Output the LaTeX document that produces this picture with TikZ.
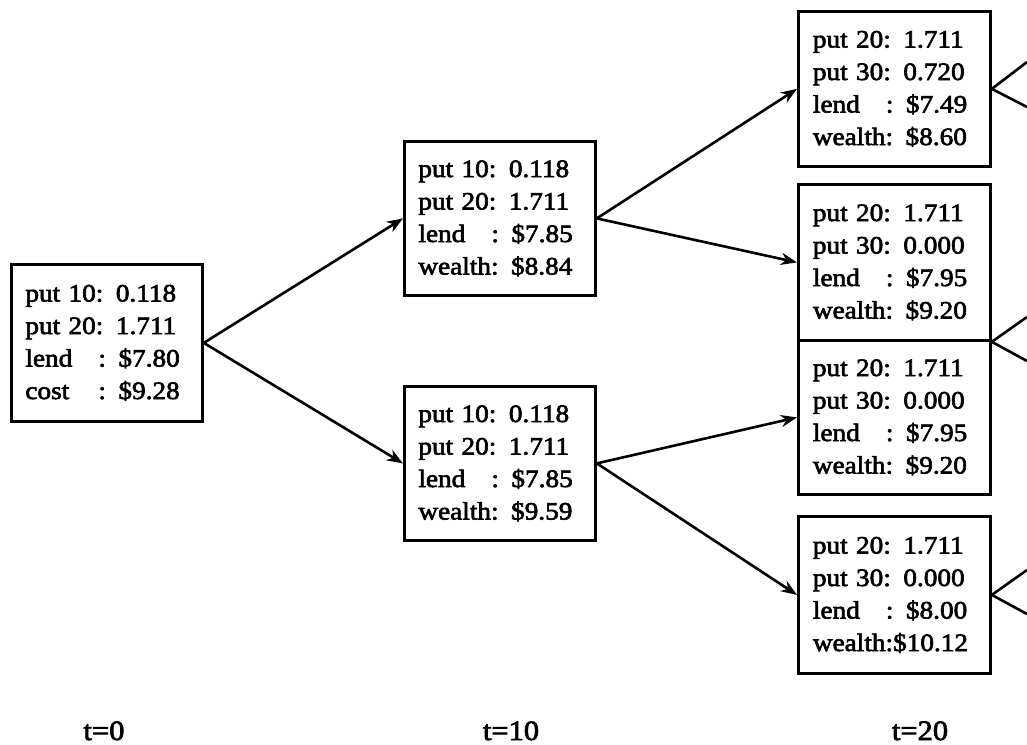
\documentclass[tikz,border=0pt]{standalone}
\usepackage{fontspec}
\setmainfont[FakeStretch=1.09,FakeBold=2.5,WordSpace=0.6]{Liberation Serif}
\usetikzlibrary{arrows.meta}
\tikzset{
 statebox/.style={draw, line width=2.8bp, minimum width=191bp, minimum height=156bp, inner xsep=14bp, inner ysep=0pt, align=left, text width=163bp, font=\fontsize{25bp}{32.5bp}\selectfont, anchor=north west},
 conn/.style={line width=2.6bp, -{Stealth[length=16bp,width=12bp,inset=5bp]}},
 stub/.style={line width=2.6bp},
 tlabel/.style={font=\fontsize{28bp}{30bp}\selectfont, anchor=base, inner sep=1bp}
}
\newcommand{\lb}[1]{\makebox[73bp][l]{#1}}
\begin{document}
\begin{tikzpicture}[x=1bp,y=-1bp]
\useasboundingbox (0,0) rectangle (1027,745);
\clip (0,0) rectangle (1027,745);
\node[statebox, minimum height=157bp] (r) at (10,263) {put 10: 0.118\\put 20: 1.711\\\lb{lend}: \$7.80\\\lb{cost}: \$9.28};
\node[statebox, minimum width=190bp, minimum height=154bp] (u) at (403,140) {put 10: 0.118\\put 20: 1.711\\\lb{lend}: \$7.85\\wealth: \$8.84};
\node[statebox, minimum width=190bp, minimum height=154bp] (d) at (403,385) {put 10: 0.118\\put 20: 1.711\\\lb{lend}: \$7.85\\wealth: \$9.59};
\node[statebox, minimum width=192bp, minimum height=155bp] (a1) at (797,10) {put 20: 1.711\\put 30: 0.720\\\lb{lend}: \$7.49\\wealth: \$8.60};
\node[statebox, minimum width=192bp, minimum height=156bp] (a2) at (797,183) {put 20: 1.711\\put 30: 0.000\\\lb{lend}: \$7.95\\wealth: \$9.20};
\node[statebox, minimum width=192bp, minimum height=154bp] (a3) at (797,339) {put 20: 1.711\\put 30: 0.000\\\lb{lend}: \$7.95\\wealth: \$9.20};
\node[statebox, minimum width=192bp, minimum height=157bp] (a4) at (797,515) {put 20: 1.711\\put 30: 0.000\\\lb{lend}: \$8.00\\wealth:\$10.12};
\draw[conn] (r.east) -- (u.west);
\draw[conn] (r.east) -- (d.west);
\draw[conn] (u.east) -- (a1.west);
\draw[conn] (u.east) -- (a2.west);
\draw[conn] (d.east) -- (a3.west);
\draw[conn] (d.east) -- (a4.west);
\coordinate (e1a) at (1027,62);
\coordinate (e1b) at (1027,107);
\coordinate (e2a) at (1027,317);
\coordinate (e2b) at (1027,361);
\coordinate (e4a) at (1027,570);
\coordinate (e4b) at (1027,614);
\draw[stub] (e1a) -- (a1.east) -- (e1b);
\draw[stub] (e2a) -- (a2.south east) -- (e2b);
\draw[stub] (e4a) -- (a4.east) -- (e4b);
\node[tlabel] (t0) at (104,740) {t=0};
\node[tlabel] (t10) at (511,740) {t=10};
\node[tlabel] (t20) at (920,740) {t=20};
\end{tikzpicture}
\end{document}
